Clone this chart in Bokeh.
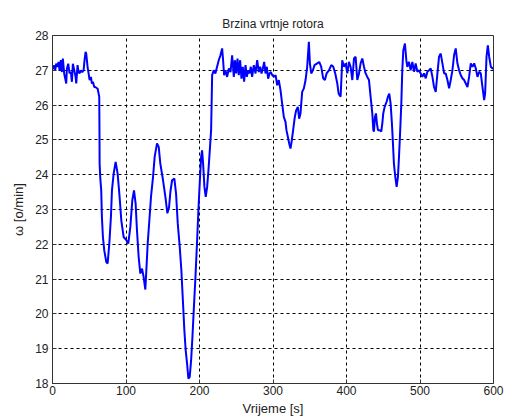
from bokeh.plotting import figure
from bokeh.models import Range1d, FixedTicker
from bokeh.embed import file_html
from bokeh.resources import INLINE

title_text = "Brzina vrtnje rotora"
x_label = "Vrijeme [s]"
y_label = "ω [o/min]"
x_ticks = [0, 100, 200, 300, 400, 500, 600]
y_ticks = [18, 19, 20, 21, 22, 23, 24, 25, 26, 27, 28]

# time [s]
t = [0.0, 1.4, 2.3, 3.7, 5.0, 6.9, 8.2, 9.6, 11.4, 12.8, 14.1, 15.9, 17.3, 18.7, 19.6,
     21.4, 23.2, 25.0, 26.4, 27.7, 29.6, 31.4, 32.3, 34.1, 35.5, 36.8, 38.7, 40.5, 42.3,
     43.6, 45.0, 45.9, 46.8, 47.7, 49.1, 50.5, 52.3, 53.6, 55.0, 56.8, 58.2, 61.4, 63.6,
     63.9, 64.1, 65.0, 66.3, 67.2, 68.6, 70.4, 73.2, 75.0, 77.3, 79.5, 80.9, 83.2, 85.9,
     88.6, 91.3, 93.6, 96.8, 100.4, 103.1, 105.9, 108.6, 110.9, 113.1, 114.9, 117.2,
     119.5, 121.8, 124.0, 126.3, 127.7, 129.5, 131.8, 134.0, 136.8, 139.0, 142.2, 144.5,
     146.7, 150.4, 153.6, 156.3, 158.6, 160.4, 162.7, 165.8, 168.1, 170.4, 173.1, 175.3,
     177.6, 179.4, 181.2, 183.1, 184.9, 186.7, 188.6, 190.4, 192.2, 194.5, 196.8, 198.5,
     200.3, 202.2, 203.5, 204.9, 206.7, 208.5, 210.4, 212.2, 214.0, 215.8, 217.2, 219.4,
     221.6, 223.9, 226.2, 228.5, 230.8, 232.1, 233.5, 235.3, 237.6, 239.9, 242.2, 244.4,
     246.7, 248.1, 249.9, 251.7, 253.4, 255.3, 257.1, 258.9, 260.7, 262.6, 264.4, 266.2,
     268.0, 269.8, 271.6, 273.9, 276.2, 278.5, 280.7, 282.6, 284.4, 286.2, 288.0, 289.8,
     291.6, 293.4, 295.3, 297.1, 298.9, 301.2, 303.5, 305.7, 307.9, 310.2, 312.4, 314.7,
     317.0, 318.3, 320.2, 322.0, 323.8, 325.6, 327.4, 329.7, 331.5, 333.8, 335.6, 337.4,
     339.7, 342.0, 344.3, 346.5, 348.8, 350.2, 352.0, 354.3, 356.5, 360.2, 362.9, 365.6,
     368.3, 370.6, 372.9, 376.1, 379.3, 382.0, 384.7, 387.5, 389.3, 392.0, 394.2, 396.5,
     398.8, 401.1, 403.3, 405.6, 407.9, 410.2, 412.4, 414.7, 417.0, 419.2, 421.5, 423.8,
     426.0, 428.3, 430.6, 432.8, 435.1, 436.5, 437.4, 438.7, 440.1, 441.4, 442.8, 445.5,
     447.3, 448.7, 450.0, 451.9, 454.6, 456.4, 458.2, 460.0, 461.8, 463.2, 464.5, 466.4,
     468.2, 470.0, 471.4, 472.7, 474.6, 475.9, 477.3, 479.5, 481.4, 482.7, 485.0, 487.3,
     489.6, 491.8, 494.1, 496.4, 498.7, 500.9, 503.2, 505.5, 507.8, 510.0, 512.3, 514.6,
     516.9, 519.1, 521.4, 523.7, 525.9, 528.2, 530.5, 532.8, 535.0, 537.3, 539.6, 541.8,
     544.1, 546.4, 548.6, 550.9, 553.2, 555.5, 557.7, 560.0, 562.3, 564.6, 566.8, 569.1,
     571.4, 573.7, 575.9, 578.2, 580.5, 582.7, 585.0, 587.3, 588.6, 590.5, 592.3, 594.1,
     596.4, 598.7, 600.0]

# rotor speed [o/min]
w = [27.05, 27.05, 27.15, 27.00, 27.19, 27.10, 27.24, 27.00, 27.29, 26.95, 27.34, 26.91,
     26.76, 26.62, 27.05, 27.19, 26.91, 26.95, 26.67, 27.19, 27.00, 26.81, 26.62, 27.15,
     26.95, 26.91, 27.00, 26.95, 27.00, 27.29, 27.53, 27.48, 27.29, 27.10, 26.91, 26.72,
     26.81, 26.62, 26.67, 26.52, 26.52, 26.47, 26.24, 25.30, 24.32, 23.90, 23.55, 22.79,
     22.21, 21.83, 21.49, 21.45, 22.02, 22.79, 23.55, 24.03, 24.37, 24.03, 23.36, 22.69,
     22.21, 22.12, 22.02, 22.50, 23.27, 23.55, 23.17, 22.41, 21.64, 21.16, 21.30, 21.06,
     20.70, 21.26, 22.02, 22.69, 23.36, 23.94, 24.51, 24.90, 24.80, 24.32, 23.84, 23.36,
     22.89, 23.07, 23.51, 23.84, 23.89, 23.46, 22.60, 21.93, 21.26, 20.30, 19.53, 18.96,
     18.57, 18.14, 18.19, 18.67, 19.34, 20.11, 21.06, 22.12, 22.98, 23.75, 24.51, 24.70,
     24.32, 23.65, 23.36, 23.65, 24.13, 24.70, 25.28, 26.86, 27.00, 26.91, 27.10, 27.29,
     27.43, 27.63, 27.29, 26.86, 27.00, 26.81, 27.05, 26.95, 27.43, 26.81, 27.29, 26.91,
     27.34, 26.86, 27.29, 26.76, 27.10, 26.67, 27.15, 26.81, 27.00, 26.91, 27.10, 26.81,
     27.15, 26.91, 27.29, 26.95, 27.10, 26.91, 27.05, 27.24, 26.91, 27.10, 26.76, 26.91,
     26.95, 26.86, 26.81, 26.86, 26.57, 26.72, 26.43, 26.05, 25.66, 25.52, 25.28, 25.09,
     24.90, 24.75, 24.99, 25.28, 25.66, 25.85, 25.95, 25.61, 25.76, 26.38, 26.48, 26.72,
     27.10, 27.82, 27.20, 26.91, 27.00, 27.15, 27.20, 27.24, 27.10, 26.77, 26.72, 26.91,
     27.00, 27.15, 27.10, 26.91, 26.62, 26.33, 26.24, 27.29, 27.10, 27.20, 26.91, 27.24,
     27.10, 26.72, 27.34, 27.39, 26.72, 26.91, 27.20, 27.34, 27.10, 26.91, 26.81, 26.72,
     26.24, 25.76, 25.28, 25.24, 25.66, 25.76, 25.47, 25.28, 25.28, 25.24, 25.47, 25.76,
     25.95, 26.10, 26.24, 26.33, 26.05, 25.47, 24.90, 24.32, 23.94, 23.65, 23.94, 24.51,
     25.09, 26.05, 27.00, 27.58, 27.77, 27.29, 27.10, 27.24, 27.00, 27.24, 26.96, 27.20,
     26.96, 27.00, 26.91, 26.81, 26.91, 26.77, 26.96, 27.00, 27.05, 26.81, 26.52, 26.38,
     26.91, 27.39, 27.48, 27.20, 26.91, 26.91, 26.72, 26.48, 26.72, 27.00, 27.44, 27.63,
     27.20, 27.00, 26.86, 26.77, 26.72, 26.62, 26.52, 26.81, 27.20, 27.10, 27.20, 27.05,
     26.81, 26.96, 26.91, 26.52, 26.14, 26.33, 27.39, 27.72, 27.39, 27.10, 27.05, 27.05]

p = figure(width=507, height=419, output_backend="svg", toolbar_location=None,
           x_range=Range1d(0, 600), y_range=Range1d(18, 28),
           title=title_text, min_border_left=52, min_border_right=14,
           min_border_top=35, min_border_bottom=36)

p.line(t, w, line_color="#0000FF", line_width=2)

p.title.align = "center"
p.title.text_font = "Liberation Sans"
p.title.text_font_style = "normal"
p.title.text_font_size = "12px"
p.title.text_color = "#222222"

for ax in (p.xaxis[0], p.yaxis[0]):
    ax.major_label_text_font = "Liberation Sans"
    ax.major_label_text_font_size = "12px"
    ax.major_label_text_color = "#222222"
    ax.axis_label_text_font = "Liberation Sans"
    ax.axis_label_text_font_style = "normal"
    ax.axis_label_text_font_size = "13px"
    ax.axis_label_text_color = "#222222"
    ax.major_tick_in = 4
    ax.major_tick_out = 0
    ax.minor_tick_line_color = None
    ax.axis_line_color = "#333333"
    ax.major_tick_line_color = "#333333"

p.xaxis.ticker = FixedTicker(ticks=x_ticks)
p.yaxis.ticker = FixedTicker(ticks=y_ticks)
p.xaxis.axis_label = x_label
p.yaxis.axis_label = y_label
p.xaxis.major_label_standoff = 2
p.yaxis.major_label_standoff = 4
p.xaxis.axis_label_standoff = 3
p.yaxis.axis_label_standoff = 6

p.xgrid.grid_line_color = "black"
p.ygrid.grid_line_color = "black"
p.xgrid.grid_line_dash = "3 3"
p.ygrid.grid_line_dash = "3 3"
p.xgrid.ticker = FixedTicker(ticks=x_ticks)
p.ygrid.ticker = FixedTicker(ticks=y_ticks)

p.outline_line_color = "#333333"
p.outline_line_width = 1
p.background_fill_color = "white"
p.border_fill_color = "white"

open("out.html", "w").write(file_html(p, INLINE))
